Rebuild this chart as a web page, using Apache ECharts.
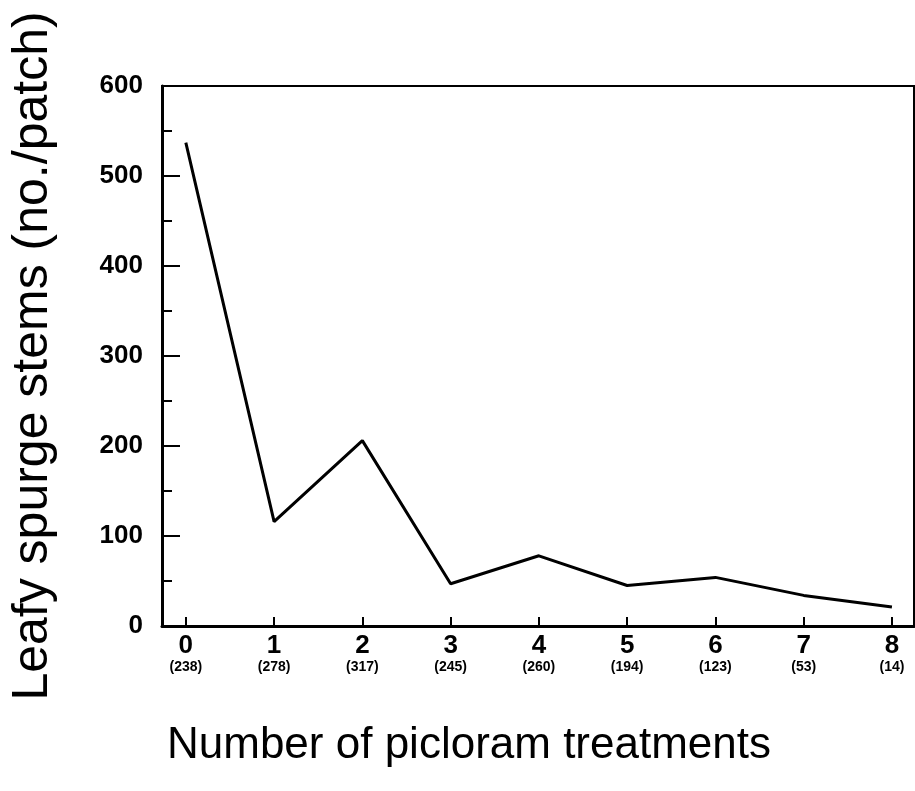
<!DOCTYPE html>
<html>
<head>
<meta charset="utf-8">
<script src="https://cdn.jsdelivr.net/npm/echarts@6/dist/echarts.min.js"></script>
<style>html,body{margin:0;padding:0;background:#fff}#c{width:915px;height:791px}</style>
</head>
<body>
<div id="c"></div>
<script>
var treatments = [0, 1, 2, 3, 4, 5, 6, 7, 8];
var stems = [537, 116, 206, 47, 78, 45, 54, 34, 21];
var patchCounts = ['238', '278', '317', '245', '260', '194', '123', '53', '14'];
var yTicks = [0, 100, 200, 300, 400, 500, 600];

var chart = echarts.init(document.getElementById('c'));
var font = 'Liberation Sans, Arial, Helvetica, sans-serif';
chart.setOption({
  animation: false,
  backgroundColor: '#fff',
  grid: {left: 162, right: 1, top: 86, bottom: 165, show: true, borderColor: '#000', borderWidth: 2, containLabel: false},
  xAxis: {
    type: 'value', min: -0.27, max: 8.25,
    name: 'Number of picloram treatments', nameLocation: 'middle', nameGap: 98,
    nameTextStyle: {fontFamily: font, fontSize: 44, color: '#000', padding: [0, 138, 0, 0]},
    axisLine: {show: true, onZero: false, lineStyle: {color: '#000', width: 3}},
    splitLine: {show: false},
    axisTick: {show: true, inside: true, length: 9, customValues: treatments, lineStyle: {color: '#000', width: 2}},
    axisLabel: {
      customValues: treatments, margin: 8, color: '#000',
      formatter: function (v) { var i = treatments.indexOf(v); return '{a|' + v + '}\n{b|(' + patchCounts[i] + ')}'; },
      rich: {
        a: {fontFamily: font, fontSize: 26, fontWeight: 'bold', color: '#000', lineHeight: 24},
        b: {fontFamily: font, fontSize: 14, fontWeight: 'bold', color: '#000', lineHeight: 18}
      }
    }
  },
  yAxis: {
    type: 'value', min: 0, max: 600, interval: 100,
    name: 'Leafy spurge stems (no./patch)', nameLocation: 'middle', nameGap: 104, nameRotate: 90,
    nameTextStyle: {fontFamily: font, fontSize: 50, color: '#000'},
    axisLine: {show: true, onZero: false, lineStyle: {color: '#000', width: 3}},
    splitLine: {show: false},
    axisTick: {show: true, inside: true, length: 18, customValues: yTicks, lineStyle: {color: '#000', width: 2}},
    minorTick: {show: true, splitNumber: 2, length: 10, lineStyle: {color: '#000', width: 2}},
    axisLabel: {customValues: yTicks, margin: 19, fontFamily: font, fontSize: 26, fontWeight: 'bold', color: '#000'}
  },
  series: [{
    type: 'line',
    data: treatments.map(function (t, i) { return [t, stems[i]]; }),
    symbol: 'none',
    lineStyle: {color: '#000', width: 3},
    itemStyle: {color: '#000'}
  }]
});
</script>
</body>
</html>
